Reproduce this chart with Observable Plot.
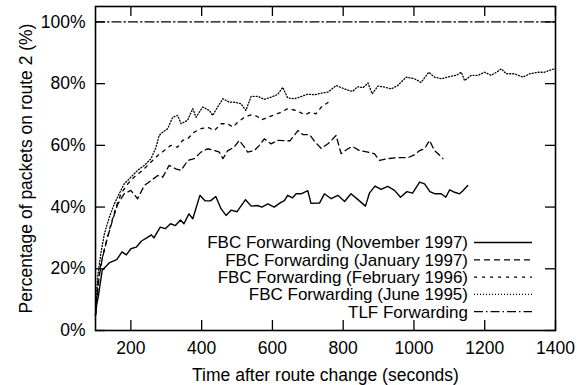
<!DOCTYPE html>
<html><head><meta charset="utf-8">
<script src="https://cdn.jsdelivr.net/npm/d3@7"></script>
<script src="https://cdn.jsdelivr.net/npm/@observablehq/plot@0.6"></script>
<style>
body{margin:0;background:#fff}
#chart svg{font-family:"Liberation Sans",Arial,sans-serif}
</style>
</head><body><div id="chart"></div>
<script>
// ---------- data ----------
const xTicks = [200, 400, 600, 800, 1000, 1200, 1400];
const yTicks = [0, 20, 40, 60, 80, 100];
const xLabel = "Time after route change (seconds)";
const yLabel = "Percentage of packets on route 2 (%)";

const seriesNames = [
  "FBC Forwarding (November 1997)",
  "FBC Forwarding (January 1997)",
  "FBC Forwarding (February 1996)",
  "FBC Forwarding (June 1995)",
  "TLF Forwarding"
];

// [seconds, percent]
const nov1997 = [[100,5],[104,9],[108,11],[113,15],[119,19.5],[127,20.5],[140,22],[160,23],[175,25.5],[187,24.5],[200,26.5],[215,27],[230,29],[245,30],[258,31],[265,30],[283,33.5],[297,33],[312,34.6],[326,34],[340,35.8],[350,34.6],[364,37.8],[375,36.2],[395,43.8],[410,42],[425,42],[440,43.4],[455,39.4],[469,37.3],[483,39],[500,38.5],[524,42.4],[540,40.3],[558,40.5],[570,40],[587,41],[605,40],[624,41.5],[634,42.1],[643,43.8],[657,43],[667,44.3],[681,44.3],[700,45.3],[709,41.2],[733,41.3],[747,44.3],[766,42.7],[785,43.8],[804,41.8],[822,44.3],[841,42.5],[863,40.3],[874,44.5],[890,46.8],[907,45.7],[926,46.7],[945,45.4],[962,43.2],[980,45],[996,44.5],[1016,48.1],[1030,47.5],[1045,45],[1060,44.3],[1077,44.3],[1090,43.2],[1101,45.6],[1115,44.8],[1129,44.3],[1139,45.4],[1152,47]];

const jan1997 = [[100,5],[104,10],[110,17.3],[120,23.8],[134,30.2],[148,35.7],[163,41],[181,44.3],[200,45.4],[219,42.7],[238,47],[257,48.6],[276,50.2],[290,49.7],[308,53.5],[327,52.4],[342,51.9],[361,55.1],[379,55.7],[398,57.8],[417,58.9],[436,58.3],[450,57.8],[460,55.7],[474,58.3],[492,59.4],[506,61.6],[521,59.4],[530,57.8],[549,58.3],[563,60],[577,62.1],[596,60.5],[615,61.6],[634,61.5],[650,61.5],[672,64.8],[686,63.5],[705,63.5],[719,61.3],[738,59],[757,60.5],[780,63.2],[794,57.3],[813,58.9],[827,59.6],[846,58.3],[870,57.8],[888,57.3],[903,55.1],[926,55.7],[954,56],[983,56],[1001,56.9],[1016,58.3],[1030,58.9],[1044,61.6],[1058,58.3],[1068,57.3],[1082,55.7]];

const feb1996 = [[100,5],[106,15],[115,21.6],[129,28.1],[144,34.6],[158,40],[172,44.3],[191,47.5],[209,49.7],[233,51.9],[257,54.6],[276,56.7],[294,58.3],[313,60],[332,59.4],[346,61.6],[360,62.1],[379,64.3],[398,65.4],[417,65.9],[436,64.8],[455,67],[474,67],[488,65.9],[502,67.5],[521,69.1],[540,69.9],[555,69.5],[570,68.3],[596,69.5],[620,70.5],[643,71.9],[667,71.3],[692,69.9],[709,70.8],[723,70.2],[738,72.4],[757,73.9]];

const jun1995 = [[100,5],[106,17.3],[115,24.9],[125,31.3],[139,36.7],[153,41],[167,44.3],[181,47.5],[200,49.7],[219,51.9],[238,53.5],[257,55.7],[271,59.4],[280,63.2],[290,64.3],[304,65.4],[318,69.1],[332,69.7],[342,67],[360,68.1],[375,71.9],[384,69.1],[403,72.4],[422,71.3],[431,69.7],[445,72.4],[460,75.1],[478,74],[492,74],[511,73.5],[525,71.3],[540,75.9],[558,75.9],[577,74.9],[596,75.6],[615,76.5],[629,78.8],[643,75.4],[662,75.1],[681,75.8],[700,76.6],[719,76.4],[738,76.9],[758,77.3],[780,79.4],[797,78.6],[815,77.8],[827,77.5],[840,79],[856,78.7],[870,80.2],[882,76.7],[898,79.2],[917,78.9],[936,78.3],[954,79.4],[978,82.1],[1001,81.6],[1020,80.4],[1042,83.7],[1058,82.1],[1077,81.6],[1101,82.3],[1120,82.7],[1134,83.7],[1143,81],[1162,82.7],[1181,82.7],[1200,83.7],[1218,82.7],[1233,83.7],[1247,84.8],[1261,83.2],[1284,83.2],[1308,82.1],[1327,83.2],[1350,83.7],[1369,83.7],[1388,84.5],[1400,84.8]];

const tlf = [[100,100],[1400,100]];

const seriesData = [nov1997, jan1997, feb1996, jun1995, tlf];

// ---------- styles ----------
const dashes = [null, "6,4", "3,5", "1,2", "9,3,1.5,3"];
const widths = [1.4, 1.3, 1.3, 1.3, 1.2];
const FONT = "17.5px";
const LEG_FONT = "17px";

const lineMarks = seriesData.map((d, i) => {
  const opts = {x: p => p[0], y: p => p[1], stroke: "black", strokeWidth: widths[i]};
  if (dashes[i]) opts.strokeDasharray = dashes[i];
  return Plot.line(d, opts);
});

const plot = Plot.plot({
  width: 577,
  height: 385,
  marginLeft: 95,
  marginRight: 22,
  marginTop: 6,
  marginBottom: 55,
  style: {fontFamily: "Liberation Sans, Arial, sans-serif", fontSize: FONT, background: "white", color: "black"},
  x: {domain: [100, 1400]},
  y: {domain: [0, 105]},
  marks: [
    Plot.axisX(xTicks, {tickSize: 0, tickPadding: 11, fontSize: FONT, tickFormat: d => String(d), label: null}),
    Plot.axisY(yTicks, {tickSize: 0, tickPadding: 10, fontSize: FONT, tickFormat: d => d + "%", label: null}),
    Plot.text([xLabel], {frameAnchor: "bottom", textAnchor: "middle", lineAnchor: "middle", dy: 45, fontSize: FONT, fill: "black"}),
    Plot.text([yLabel], {frameAnchor: "left", textAnchor: "middle", lineAnchor: "middle", rotate: -90, dx: -69, fontSize: FONT, fill: "black"}),
    Plot.ruleX(xTicks, {insetTop: 314, stroke: "black", strokeWidth: 1.3}),
    Plot.ruleX(xTicks, {insetBottom: 314, stroke: "black", strokeWidth: 1.3}),
    Plot.ruleY(yTicks, {insetRight: 450, stroke: "black", strokeWidth: 1.3}),
    Plot.ruleY(yTicks, {insetLeft: 450, stroke: "black", strokeWidth: 1.3}),
    ...lineMarks,
    Plot.frame({stroke: "black", strokeWidth: 1.6})
  ]
});

// ---------- legend (inside plot, bottom right) ----------
const svg = d3.select(plot);
const legend = svg.append("g")
  .attr("font-family", "Liberation Sans, Arial, sans-serif")
  .attr("font-size", LEG_FONT);
const legX = 468, legY0 = 242.5, legStep = 17.3, sampleX0 = 474, sampleX1 = 532;
seriesNames.forEach((name, i) => {
  const cy = legY0 + i * legStep;
  legend.append("text")
    .attr("x", legX).attr("y", cy).attr("dy", "0.35em")
    .attr("text-anchor", "end").attr("fill", "black")
    .text(name);
  const ln = legend.append("line")
    .attr("x1", sampleX0).attr("x2", sampleX1)
    .attr("y1", cy).attr("y2", cy)
    .attr("stroke", "black").attr("stroke-width", widths[i]);
  if (dashes[i]) ln.attr("stroke-dasharray", dashes[i]);
});

document.getElementById("chart").append(plot);
</script>
</body></html>
